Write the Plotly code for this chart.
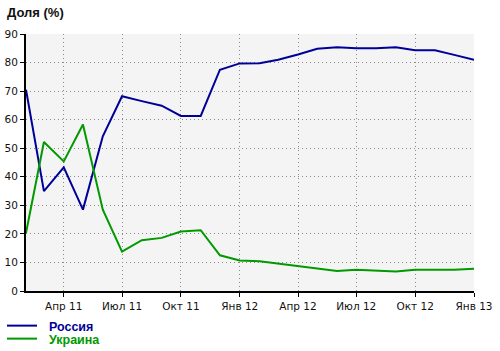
import plotly.graph_objects as go

months = ["2011-02-01", "2011-03-01", "2011-04-01", "2011-05-01", "2011-06-01", "2011-07-01",
          "2011-08-01", "2011-09-01", "2011-10-01", "2011-11-01", "2011-12-01", "2012-01-01",
          "2012-02-01", "2012-03-01", "2012-04-01", "2012-05-01", "2012-06-01", "2012-07-01",
          "2012-08-01", "2012-09-01", "2012-10-01", "2012-11-01", "2012-12-01", "2013-01-01"]
russia = [70.5, 35.0, 43.3, 28.5, 54.2, 68.2, 66.5, 64.9, 61.3, 61.3, 77.5, 79.7,
          79.8, 81.0, 82.8, 84.8, 85.4, 85.0, 85.0, 85.4, 84.3, 84.3, 82.7, 81.0]
ukraine = [20.3, 52.2, 45.4, 58.3, 28.5, 13.8, 17.8, 18.6, 20.8, 21.3, 12.5, 10.7,
           10.4, 9.6, 8.7, 7.7, 7.0, 7.4, 7.2, 6.8, 7.4, 7.4, 7.4, 7.8]
tick_vals = ["2011-04-01", "2011-07-01", "2011-10-01", "2012-01-01",
             "2012-04-01", "2012-07-01", "2012-10-01", "2013-01-01"]
tick_text = ["Апр 11", "Июл 11", "Окт 11", "Янв 12", "Апр 12", "Июл 12", "Окт 12", "Янв 13"]
y_ticks = [0, 10, 20, 30, 40, 50, 60, 70, 80, 90]

BLUE = "#000099"
GREEN = "#009900"
FONT = "DejaVu Sans"
LFONT = "Liberation Sans"

W, H = 500, 351
ML, MR, MT, MB = 26, 26, 34, 60
PW, PH = W - ML - MR, H - MT - MB
PAD = "\u00a0\u00a0"

fig = go.Figure()
fig.add_trace(go.Scatter(x=months, y=russia, mode="lines", name=PAD + "<b>Россия</b>",
                         line=dict(color=BLUE, width=2), legend="legend"))
fig.add_trace(go.Scatter(x=months, y=ukraine, mode="lines", name=PAD + "<b>Украина</b>",
                         line=dict(color=GREEN, width=2), legend="legend2"))

leg_common = dict(xref="container", yref="container", xanchor="left", yanchor="middle",
                  bgcolor="rgba(0,0,0,0)", borderwidth=0, itemwidth=30)
fig.update_layout(
    width=W, height=H,
    margin=dict(l=ML, r=MR, t=MT, b=MB, autoexpand=False),
    paper_bgcolor="white",
    plot_bgcolor="#f4f4f4",
    font=dict(family=FONT, size=10.5, color="#111111"),
    showlegend=True,
    legend=dict(x=2 / W, y=1 - 326 / H, font=dict(family=LFONT, size=12.5, color=BLUE),
                **leg_common),
    legend2=dict(x=2 / W, y=1 - 339 / H, font=dict(family=LFONT, size=12.5, color=GREEN),
                 **leg_common),
)
fig.add_annotation(text="<b>Доля (%)</b>", x=(5 - ML) / PW, y=(H - MB - 12) / PH,
                   xref="paper", yref="paper",
                   xanchor="left", yanchor="middle", showarrow=False,
                   font=dict(family=LFONT, size=13, color="#111111"))

grid = dict(showgrid=True, gridcolor="#8a8a8a", griddash="1px,3px", gridwidth=1,
            showline=True, linecolor="black", linewidth=2,
            ticks="outside", ticklen=4, tickcolor="black", tickwidth=1,
            zeroline=False)
fig.update_xaxes(type="date", range=["2011-02-01", "2013-01-01"],
                 tickvals=tick_vals, ticktext=tick_text, **grid)
fig.update_yaxes(range=[0, 90], tickvals=y_ticks, **grid)

fig.write_html("out.html")
